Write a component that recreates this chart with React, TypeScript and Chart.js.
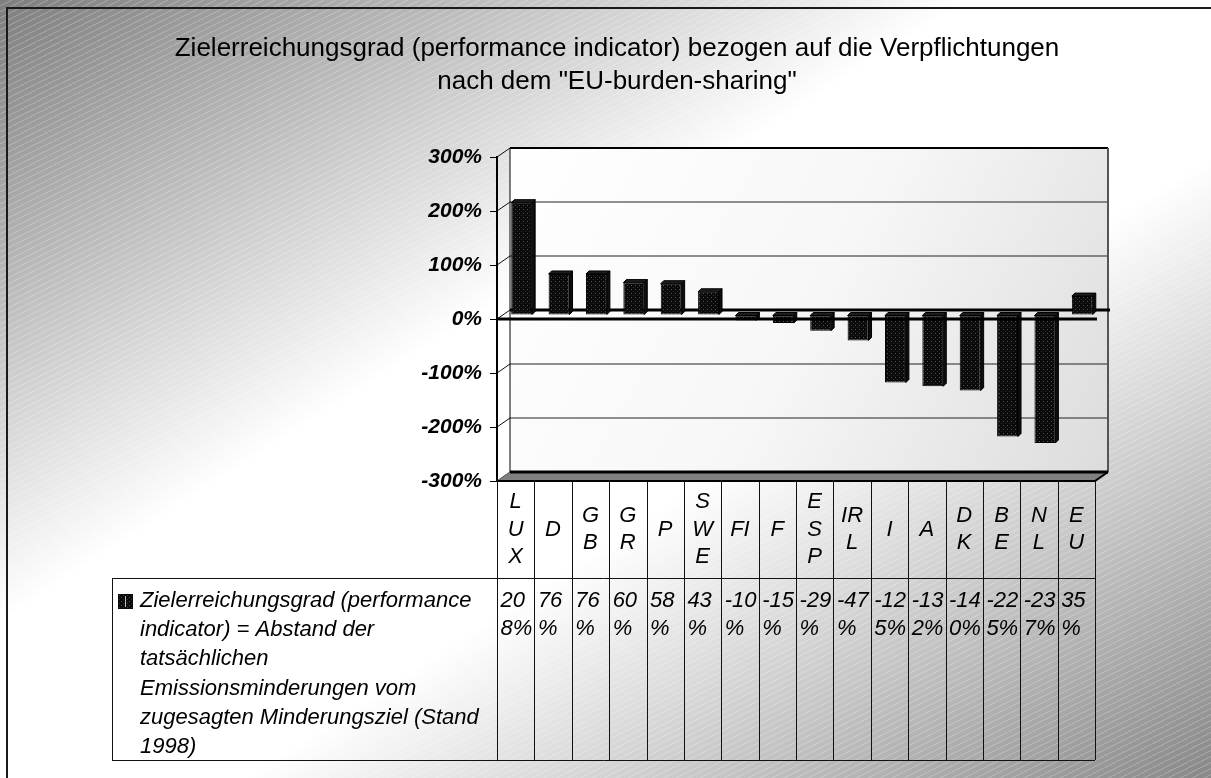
import React, { useEffect, useRef } from 'react';
import { Chart, registerables } from 'chart.js';
Chart.register(...registerables);

const titleLines = [
  'Zielerreichungsgrad (performance indicator) bezogen auf die Verpflichtungen',
  'nach dem "EU-burden-sharing"',
];
const categories = ['LUX', 'D', 'GB', 'GR', 'P', 'SWE', 'FI', 'F', 'ESP', 'IRL', 'I', 'A', 'DK', 'BE', 'NL', 'EU'];
const values = [208, 76, 76, 60, 58, 43, -10, -15, -29, -47, -125, -132, -140, -225, -237, 35];
const seriesLabelLines = [
  'Zielerreichungsgrad (performance',
  'indicator) = Abstand der',
  'tatsächlichen',
  'Emissionsminderungen vom',
  'zugesagten Minderungsziel (Stand',
  '1998)',
];
const yMin = -300;
const yMax = 300;
const yStep = 100;

const W = 1211;
const H = 778;
const DX = 13; // wall depth
const DY = -9;
const BX = 6; // bar mid-depth offset
const BY = -4;
const BD = 3; // bar depth
const FONT = '"Liberation Sans", Arial, sans-serif';

function makeBarPattern(): CanvasPattern | string {
  const c = document.createElement('canvas');
  c.width = 4;
  c.height = 4;
  const g = c.getContext('2d');
  if (!g) return '#111';
  g.fillStyle = '#0a0a0a';
  g.fillRect(0, 0, 4, 4);
  g.fillStyle = '#555';
  g.fillRect(1, 1, 1, 1);
  g.fillStyle = '#333';
  g.fillRect(3, 3, 1, 1);
  return g.createPattern(c, 'repeat') || '#111';
}

function makeStripePattern(): CanvasPattern | string {
  const c = document.createElement('canvas');
  c.width = 12;
  c.height = 6;
  const g = c.getContext('2d');
  if (!g) return 'transparent';
  g.strokeStyle = 'rgba(255,255,255,0.28)';
  g.lineWidth = 1;
  g.beginPath();
  g.moveTo(0, 6);
  g.lineTo(12, 0);
  g.stroke();
  return g.createPattern(c, 'repeat') || 'transparent';
}

function wrapChars(ctx: CanvasRenderingContext2D, text: string, maxW: number): string[] {
  const lines: string[] = [];
  let cur = '';
  for (const ch of text) {
    const t = cur + ch;
    if (cur && ctx.measureText(t).width > maxW) {
      lines.push(cur);
      cur = ch;
    } else cur = t;
  }
  if (cur) lines.push(cur);
  return lines;
}

const fmtPct = (v: number) => `${v}%`;

export default function App() {
  const ref = useRef<HTMLCanvasElement>(null);

  useEffect(() => {
    const canvas = ref.current;
    if (!canvas) return;
    const barPattern = makeBarPattern();
    const stripes = makeStripePattern();

    const backPlugin = {
      id: 'back3d',
      beforeDraw(chart: any) {
        const { ctx, chartArea: ca, scales } = chart;
        const ys = scales.y;
        const xs = scales.x;
        ctx.save();
        // background gradient (rect-relative diagonal)
        ctx.save();
        ctx.scale(W, H);
        const bg = ctx.createLinearGradient(0, 0, 1, 1);
        bg.addColorStop(0, '#7e7e7e');
        bg.addColorStop(0.4, '#ffffff');
        bg.addColorStop(0.6, '#ffffff');
        bg.addColorStop(1, '#888888');
        ctx.fillStyle = bg;
        ctx.fillRect(0, 0, 1, 1);
        ctx.restore();
        ctx.fillStyle = stripes;
        ctx.fillRect(0, 0, W, H);
        // frame
        ctx.strokeStyle = '#1a1a1a';
        ctx.lineWidth = 2;
        ctx.strokeRect(7, 8, W, H);

        // title
        ctx.fillStyle = '#000';
        ctx.font = `26px ${FONT}`;
        ctx.textAlign = 'center';
        ctx.textBaseline = 'alphabetic';
        ctx.fillText(titleLines[0], 617, 56);
        ctx.fillText(titleLines[1], 617, 89);

        const xBL = ca.left + DX;
        const xBR = ca.right + DX;
        const yTB = ca.top + DY;
        const yBB = ca.bottom + DY;

        // back wall
        const wg = ctx.createLinearGradient(xBL, yTB, xBR, yBB);
        wg.addColorStop(0, '#ffffff');
        wg.addColorStop(0.5, '#f7f7f7');
        wg.addColorStop(1, '#dcdcdc');
        ctx.fillStyle = wg;
        ctx.fillRect(xBL, yTB, xBR - xBL, yBB - yTB);

        // grid lines on the back wall + diagonals on side wall
        for (let v = yMin; v <= yMax; v += yStep) {
          const yf = ys.getPixelForValue(v);
          const yb = yf + DY;
          ctx.strokeStyle = '#111';
          ctx.lineWidth = 1;
          ctx.beginPath();
          ctx.moveTo(ca.left, yf);
          ctx.lineTo(xBL, yb);
          ctx.stroke();
          if (v !== 0 && v !== yMin) {
            ctx.lineWidth = v === yMax ? 2 : 1;
            ctx.strokeStyle = v === yMax ? '#000' : '#222';
            ctx.beginPath();
            ctx.moveTo(xBL, yb);
            ctx.lineTo(xBR, yb);
            ctx.stroke();
          }
        }
        // left back edge
        ctx.strokeStyle = '#000';
        ctx.lineWidth = 1;
        ctx.beginPath();
        ctx.moveTo(xBL, yTB);
        ctx.lineTo(xBL, yBB);
        ctx.stroke();
        // right edge
        ctx.strokeStyle = '#555';
        ctx.lineWidth = 2;
        ctx.beginPath();
        ctx.moveTo(xBR, yTB);
        ctx.lineTo(xBR, yBB);
        ctx.stroke();

        // floor
        ctx.fillStyle = '#808080';
        ctx.beginPath();
        ctx.moveTo(ca.left, ca.bottom);
        ctx.lineTo(xBL, yBB);
        ctx.lineTo(xBR, yBB);
        ctx.lineTo(ca.right, ca.bottom);
        ctx.closePath();
        ctx.fill();
        ctx.strokeStyle = '#000';
        ctx.lineWidth = 3;
        ctx.beginPath();
        ctx.moveTo(xBL, yBB);
        ctx.lineTo(xBR, yBB);
        ctx.stroke();
        ctx.lineWidth = 2;
        ctx.beginPath();
        ctx.moveTo(ca.left, ca.bottom);
        ctx.lineTo(ca.right, ca.bottom);
        ctx.lineTo(xBR, yBB);
        ctx.stroke();

        // back zero line
        const y0b = ys.getPixelForValue(0) + DY;
        ctx.lineWidth = 3;
        ctx.beginPath();
        ctx.moveTo(xBL, y0b);
        ctx.lineTo(xBR + 2, y0b);
        ctx.stroke();

        // data table
        const n = categories.length;
        const colW = (ca.right - ca.left) / n;
        const rowTop = ca.bottom;
        const rowMid = ca.bottom + 97;
        const rowBot = ca.bottom + 279;
        const legLeft = 112;
        ctx.strokeStyle = '#111';
        ctx.lineWidth = 1;
        ctx.beginPath();
        for (let i = 0; i <= n; i++) {
          const xx = Math.round(xs.getPixelForValue(Math.min(i, n - 1)) + (i === n ? colW / 2 : -colW / 2)) + 0.5;
          ctx.moveTo(xx, rowTop);
          ctx.lineTo(xx, rowBot);
        }
        ctx.moveTo(legLeft + 0.5, rowMid);
        ctx.lineTo(legLeft + 0.5, rowBot);
        ctx.moveTo(legLeft, rowMid + 0.5);
        ctx.lineTo(ca.right, rowMid + 0.5);
        ctx.moveTo(legLeft, rowBot + 0.5);
        ctx.lineTo(ca.right, rowBot + 0.5);
        ctx.stroke();

        ctx.fillStyle = '#000';
        ctx.font = `italic 22px ${FONT}`;
        const hdrCenter = ca.bottom + 46.5;
        const lh = 27.5;
        categories.forEach((c, i) => {
          const cx = xs.getPixelForValue(i);
          const lines = wrapChars(ctx, c, colW - 13);
          ctx.textAlign = 'center';
          lines.forEach((ln, k) => {
            const cy = hdrCenter + (k - (lines.length - 1) / 2) * lh;
            ctx.fillText(ln, cx, cy + 8);
          });
          const vl = wrapChars(ctx, fmtPct(values[i]), colW - 3);
          ctx.textAlign = 'left';
          vl.forEach((ln, k) => {
            ctx.fillText(ln, cx - colW / 2 + 3.5, rowMid + 29 + k * 28);
          });
        });
        // legend key + series label
        ctx.fillStyle = barPattern;
        ctx.fillRect(118, rowMid + 16, 15, 15);
        ctx.fillStyle = '#bbb';
        ctx.fillRect(125, rowMid + 18, 1, 11);
        ctx.fillStyle = '#000';
        ctx.textAlign = 'left';
        seriesLabelLines.forEach((ln, k) => {
          ctx.fillText(ln, 140, rowMid + 29 + k * 29.2);
        });
        ctx.restore();
      },
      beforeDatasetsDraw(chart: any) {
        chart.ctx.save();
        chart.ctx.translate(BX, BY);
      },
      afterDatasetsDraw(chart: any) {
        const { ctx, chartArea: ca, scales } = chart;
        ctx.restore();
        ctx.save();
        const meta = chart.getDatasetMeta(0);
        meta.data.forEach((el: any) => {
          const p = el.getProps(['x', 'y', 'base', 'width'], true);
          const l = p.x - p.width / 2 + BX;
          const r = p.x + p.width / 2 + BX;
          const t = Math.min(p.y, p.base) + BY;
          const b = Math.max(p.y, p.base) + BY;
          ctx.fillStyle = '#1c1c1c';
          ctx.strokeStyle = '#000';
          ctx.lineWidth = 1;
          ctx.beginPath();
          ctx.moveTo(l, t);
          ctx.lineTo(l + BD, t - BD);
          ctx.lineTo(r + BD, t - BD);
          ctx.lineTo(r, t);
          ctx.closePath();
          ctx.fill();
          ctx.stroke();
          ctx.fillStyle = '#0d0d0d';
          ctx.beginPath();
          ctx.moveTo(r, t);
          ctx.lineTo(r + BD, t - BD);
          ctx.lineTo(r + BD, b - BD);
          ctx.lineTo(r, b);
          ctx.closePath();
          ctx.fill();
          ctx.stroke();
        });
        const y0f = scales.y.getPixelForValue(0);
        ctx.strokeStyle = '#000';
        ctx.lineWidth = 3;
        ctx.beginPath();
        ctx.moveTo(ca.left, y0f);
        ctx.lineTo(ca.right + 2, y0f);
        ctx.stroke();
        ctx.restore();
      },
    };

    const chart = new Chart(canvas, {
      type: 'bar',
      data: {
        labels: categories,
        datasets: [
          {
            label: seriesLabelLines.join(' '),
            data: values,
            backgroundColor: barPattern as any,
            borderColor: '#000',
            borderWidth: 1,
            borderSkipped: false,
            barPercentage: 0.56,
            categoryPercentage: 1,
          },
        ],
      },
      options: {
        responsive: false,
        animation: false,
        layout: { padding: { left: 0, right: 116, top: 157, bottom: 297 } },
        plugins: {
          legend: { display: false },
          title: { display: false },
          tooltip: { enabled: false },
        },
        scales: {
          x: {
            display: false,
            offset: true,
            afterFit(s: any) {
              s.paddingLeft = 0;
              s.paddingRight = 0;
            },
          },
          y: {
            min: yMin,
            max: yMax,
            ticks: {
              stepSize: yStep,
              padding: 8,
              color: '#000',
              font: { family: FONT, size: 21, weight: 'bold', style: 'italic' },
              callback: (v: any) => fmtPct(Number(v)),
            },
            grid: { display: true, drawOnChartArea: false, drawTicks: true, tickLength: 7, color: '#000' },
            border: { display: true, color: '#000', width: 2 },
            afterFit(s: any) {
              s.width = 497;
              s.paddingTop = 0;
              s.paddingBottom = 0;
            },
          },
        },
      },
      plugins: [backPlugin],
    });
    return () => chart.destroy();
  }, []);

  return (
    <div style={{ position: 'fixed', left: 0, top: 0, width: W, height: H }}>
      <canvas ref={ref} width={W} height={H} style={{ width: W, height: H, display: 'block' }} />
    </div>
  );
}
